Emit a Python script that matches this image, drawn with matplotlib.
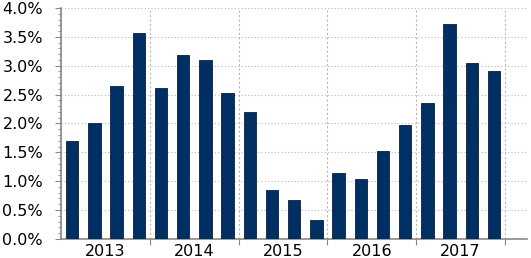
import matplotlib.pyplot as plt
from matplotlib.ticker import MultipleLocator, FuncFormatter

years = ["2013", "2014", "2015", "2016", "2017"]
values = [1.70, 2.01, 2.65, 3.56,
          2.62, 3.19, 3.10, 2.53,
          2.20, 0.85, 0.68, 0.33,
          1.15, 1.03, 1.52, 1.97,
          2.35, 3.73, 3.04, 2.91]

bar_color = "#003063"
grid_color = "#b8b8b8"
spine_color = "#7d8894"

fig = plt.figure(figsize=(5.31, 2.58), dpi=100)
ax = fig.add_axes([0.115, 0.074, 0.878, 0.895])

x = list(range(len(values)))
ax.bar(x, values, width=0.56, color=bar_color, edgecolor="#0b1f3a", linewidth=0.6, zorder=3)

ax.set_xlim(-0.5, 20.5)
ax.set_ylim(0, 4.0)

# y axis
ax.yaxis.set_major_locator(MultipleLocator(0.5))
ax.yaxis.set_minor_locator(MultipleLocator(0.1))
ax.yaxis.set_major_formatter(FuncFormatter(lambda v, p: f"{v:.1f}%"))
ax.tick_params(axis="y", which="major", length=4, color=spine_color, labelsize=11.5, pad=9)
ax.tick_params(axis="y", which="minor", length=2.5, color=spine_color)
ax.grid(axis="y", which="major", linestyle=(0, (1, 2)), color=grid_color, linewidth=0.8, zorder=0)

# x axis: year labels centered, boundaries as gridlines
ax.set_xticks([3.5, 7.5, 11.5, 15.5, 19.5])
ax.set_xticklabels([])
ax.set_xticks([1.5, 5.5, 9.5, 13.5, 17.5], minor=True)
ax.set_xticklabels(years, minor=True)
ax.tick_params(axis="x", which="major", length=4, color=spine_color)
ax.tick_params(axis="x", which="minor", length=0, labelsize=11.5, pad=4)
ax.grid(axis="x", which="major", linestyle=(0, (2, 2)), color=grid_color, linewidth=0.8, zorder=0)

for s in ["top", "right"]:
    ax.spines[s].set_visible(False)
ax.spines["left"].set_color(spine_color)
ax.spines["bottom"].set_color("#8a8a8a")
ax.spines["left"].set_linewidth(1.2)
ax.spines["bottom"].set_linewidth(1.2)

fig.savefig("out.png", dpi=100)
